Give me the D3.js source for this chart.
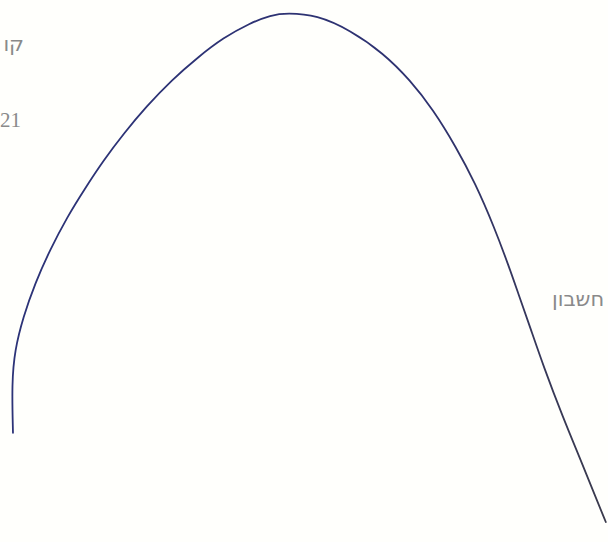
<!DOCTYPE html>
<html>
<head>
<meta charset="utf-8">
<script src="https://cdn.jsdelivr.net/npm/d3@7"></script>
<style>
  html, body { margin: 0; padding: 0; background: #fffffc; overflow: hidden; }
</style>
</head>
<body>
<script>
// Valeurs (t = temps, v = valeur)
const tValues = [0.05, 0.03, 0.08, 0.22, 0.42, 0.67, 0.96, 1.24, 1.57, 1.91, 2.28, 2.71, 3.15, 3.57,
                 4.02, 4.37, 4.64, 5.14, 5.70, 6.25, 6.70, 7.09, 7.47, 7.79, 8.11, 8.36, 8.51, 8.71,
                 8.94, 9.26, 9.56, 9.83, 9.98];
const vValues = [17.2, 27.0, 33.5, 40.0, 46.7, 53.3, 59.8, 65.1, 71.0, 76.3, 81.5, 86.8, 91.3, 95.1,
                 98.0, 99.6, 100.0, 99.6, 96.6, 92.1, 86.8, 80.9, 73.6, 66.5, 57.8, 49.9, 44.8, 38.1,
                 30.2, 20.3, 11.8, 3.9, -0.4];

// Textes (seule la partie visible dans l'image)
const labels = ["קו", "21", "חשבון"];

const width = 608, height = 542;

const svg = d3.select("body")
    .append("svg")
    .attr("width", width)
    .attr("height", height)

const x = d3.scaleLinear().domain([0, 10]).range([10, 607])
const y = d3.scaleLinear().domain([0, 100]).range([520, 13])

// Dégradé pour la couleur du trait (bleu à gauche, plus gris à droite)
const grad = svg.append("defs").append("linearGradient")
    .attr("id", "strokeGrad")
    .attr("gradientUnits", "userSpaceOnUse")
    .attr("x1", 0).attr("x2", width)
    .attr("y1", 0).attr("y2", 0)
grad.append("stop").attr("offset", "0%").attr("stop-color", "#2c3378")
grad.append("stop").attr("offset", "70%").attr("stop-color", "#2e3270")
grad.append("stop").attr("offset", "100%").attr("stop-color", "#3b3b4c")

const points = tValues.map((t, i) => [t, vValues[i]])

// curveBasis pour lisser les petites erreurs de lecture
const line = d3.line()
    .x(d => x(d[0]))
    .y(d => y(d[1]))
    .curve(d3.curveBasis)

svg.append("path")
    .datum(points)
    .attr("d", line)
    .attr("fill", "none")
    .attr("stroke", "url(#strokeGrad)")
    .attr("stroke-width", 1.8)
    .attr("stroke-linecap", "round")

// Textes
const textStyle = sel => sel
    .attr("font-family", "'DejaVu Sans', sans-serif")
    .attr("font-size", 21)
    .attr("fill", "#8a8a8a")

svg.append("text")
    .attr("x", 24)
    .attr("y", 51)
    .attr("text-anchor", "end")
    .text(labels[0])
    .call(textStyle)

svg.append("text")
    .attr("x", 0)
    .attr("y", 127)
    .attr("text-anchor", "start")
    .text(labels[1])
    .call(textStyle)
    .attr("font-family", "'Liberation Serif', serif")

svg.append("text")
    .attr("x", 552)
    .attr("y", 306)
    .attr("text-anchor", "start")
    .text(labels[2])
    .call(textStyle)
</script>
</body>
</html>
